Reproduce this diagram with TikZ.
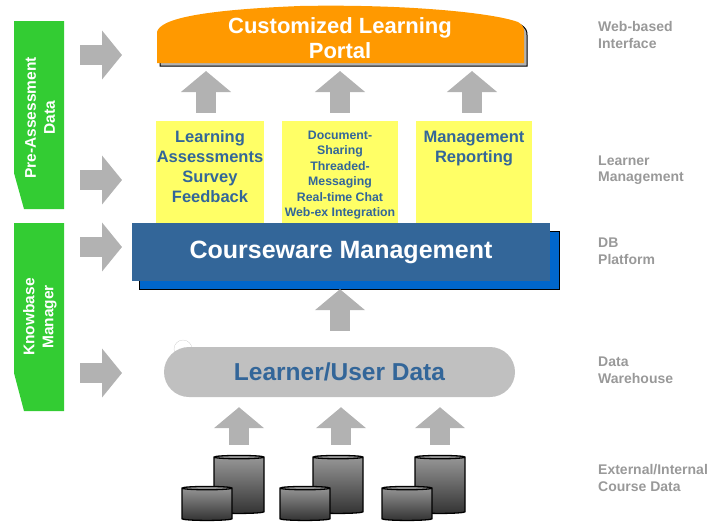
\documentclass[tikz,border=0pt]{standalone}
\usepackage{fontspec}
\setmainfont{Liberation Sans}
\usepackage{xcolor}
\usepackage{tikz}
\usetikzlibrary{shapes.geometric, arrows.meta, positioning}

\definecolor{sidegreen}{HTML}{33CC33}
\definecolor{portalorange}{HTML}{FF9900}
\definecolor{boxyellow}{HTML}{FFFF66}
\definecolor{cwblue}{HTML}{336699}
\definecolor{cwshade}{HTML}{0066CC}
\definecolor{arrowgrey}{HTML}{B2B2B2}
\definecolor{datagrey}{HTML}{C0C0C0}
\definecolor{taggrey}{HTML}{999999}

\tikzstyle{sidebar} = [fill=sidegreen]
\tikzstyle{sidetext} = [rotate=90, text=white, align=center, font=\fontsize{15.5}{19}\selectfont\bfseries]
\tikzstyle{sidearrow} = [arrowgrey, line width=20pt, -{Triangle[width=48pt,length=20pt]}]
\tikzstyle{uparrow} = [arrowgrey, line width=20pt, -{Triangle[width=49pt,length=21pt]}]
\tikzstyle{portaltext} = [text=white, align=center, font=\fontsize{22}{25}\selectfont\bfseries]
\tikzstyle{yellowbox} = [rectangle, fill=boxyellow, minimum width=108pt, minimum height=104pt]
\tikzstyle{boxtext} = [text=cwblue, align=center, inner sep=0pt, font=\fontsize{16.5}{20}\selectfont\bfseries]
\tikzstyle{smalltext} = [text=cwblue, align=center, inner sep=0pt, font=\fontsize{12.3}{15.4}\selectfont\bfseries]
\tikzstyle{cwshadow} = [rectangle, fill=cwshade, draw=black, minimum width=420pt, minimum height=58pt]
\tikzstyle{cwbox} = [rectangle, fill=cwblue, minimum width=418pt, minimum height=58pt, text=white, font=\fontsize{25}{28}\selectfont\bfseries]
\tikzstyle{datapill} = [rectangle, rounded corners=25pt, fill=datagrey, minimum width=351pt, minimum height=50pt, text=cwblue, font=\fontsize{24.5}{28}\selectfont\bfseries]
\tikzstyle{dbbig} = [cylinder, shape border rotate=90, aspect=0.5, draw=black, line width=1.3pt, top color=black!40, bottom color=black!80, minimum width=50pt, minimum height=58pt]
\tikzstyle{dbsmall} = [cylinder, shape border rotate=90, aspect=0.5, draw=black, line width=1.3pt, top color=black!40, bottom color=black!80, minimum width=50pt, minimum height=34pt]
\tikzstyle{tag} = [anchor=west, text=taggrey, align=left, inner sep=0pt, font=\fontsize{14}{16.5}\selectfont\bfseries]

\begin{document}
\begin{tikzpicture}[x=1pt, y=-1pt]
  \useasboundingbox (0,0) rectangle (716,523);

  % side bars
  \fill[sidebar] (14,21) -- (64,21) -- (64,209) -- (24,209) -- (14,173) -- cycle;
  \node (prelabel) [sidetext] at (40,118) {Pre-Assessment\\Data};
  \fill[sidebar] (14,223) -- (64,223) -- (64,411) -- (24,411) -- (14,373) -- cycle;
  \node (kblabel) [sidetext] at (40,317) {Knowbase\\Manager};

  % portal
  \path[fill=gray!60, draw=black, line width=1pt] (160,66) -- (160,34) .. controls (163,21) and (203,12) .. (303,9) .. controls (403,7) and (493,15) .. (521,25) .. controls (526,28) and (527,31) .. (527,35) -- (527,66) -- cycle;
  \fill[portalorange] (157,63) -- (157,32) .. controls (160,19) and (200,10) .. (300,6) .. controls (400,4) and (490,12) .. (518,22) .. controls (523,25) and (524,28) .. (524,32) -- (524,63) -- cycle;
  \node (portal) [portaltext] at (340,38) {Customized Learning\\Portal};
  \coordinate (portalbase) at (340,63);

  % learner management boxes
  \node (learnbox) [yellowbox] at (210,173) {};
  \node (docbox) [yellowbox, minimum width=116pt] at (340,173) {};
  \node (mgmtbox) [yellowbox, minimum width=116pt] at (474,173) {};
  \node (learntext) [boxtext, below=10pt of learnbox.north] {Learning\\Assessments\\Survey\\Feedback};
  \node (doctext) [smalltext, below=10pt of docbox.north] {Document-\\Sharing\\Threaded-\\Messaging\\Real-time Chat\\Web-ex Integration};
  \node (mgmttext) [boxtext, below=10pt of mgmtbox.north] {Management\\Reporting};

  % courseware
  \node (cwback) [cwshadow] at (349,260) {};
  \node (cw) [cwbox] at (341,252) {Courseware Management};

  % data warehouse
  \draw[gray!50, very thin] (183,349) circle (9);
  \node (learner) [datapill] at (339.5,372) {Learner/User Data};

  % databases
  \node (dbbig1) [dbbig] at (239,486) {};
  \node (dbsmall1) [dbsmall] at (207,505) {};
  \node (dbbig2) [dbbig] at (338,486) {};
  \node (dbsmall2) [dbsmall] at (305,505) {};
  \node (dbbig3) [dbbig] at (440,486) {};
  \node (dbsmall3) [dbsmall] at (407,505) {};

  % up arrows
  \draw[uparrow, shorten <=8pt, shorten >=8pt] ([xshift=-4pt]learnbox.north) -- ([xshift=-4pt]learnbox.north |- portalbase);
  \draw[uparrow, shorten <=8pt, shorten >=8pt] (docbox.north) -- (docbox.north |- portalbase);
  \draw[uparrow, shorten <=8pt, shorten >=8pt] ([xshift=-2pt]mgmtbox.north) -- ([xshift=-2pt]mgmtbox.north |- portalbase);
  \draw[uparrow, shorten <=16pt] (learner.north -| docbox) -- (cwback.south -| docbox);
  \draw[uparrow, shorten <=10pt, shorten >=10pt] (dbbig1.north) -- (dbbig1.north |- learner.south);
  \draw[uparrow, shorten <=10pt, shorten >=10pt] ([xshift=3pt]dbbig2.north) -- ([xshift=3pt]dbbig2.north |- learner.south);
  \draw[uparrow, shorten <=10pt, shorten >=10pt] (dbbig3.north) -- (dbbig3.north |- learner.south);

  % side arrows
  \coordinate (pretail1) at (80,55);
  \coordinate (pretip1) at (122,55);
  \coordinate (pretail2) at (80,180);
  \coordinate (pretip2) at (122,180);
  \coordinate (kbtail1) at (80,247);
  \coordinate (kbtip1) at (122,247);
  \coordinate (kbtail2) at (80,373);
  \coordinate (kbtip2) at (122,373);
  \draw[sidearrow] (pretail1) -- (pretip1);
  \draw[sidearrow] (pretail2) -- (pretip2);
  \draw[sidearrow] (kbtail1) -- (kbtip1);
  \draw[sidearrow] (kbtail2) -- (kbtip2);

  % layer tags
  \node (webtag) [tag] at (598,35) {Web-based\\Interface};
  \node (learnertag) [tag] at (598,170) {Learner\\Management};
  \node (dbtag) [tag] at (598,251) {DB\\Platform};
  \node (whtag) [tag] at (598,370) {Data\\Warehouse};
  \node (exttag) [tag] at (598,478) {External/Internal\\Course Data};

\end{tikzpicture}
\end{document}
